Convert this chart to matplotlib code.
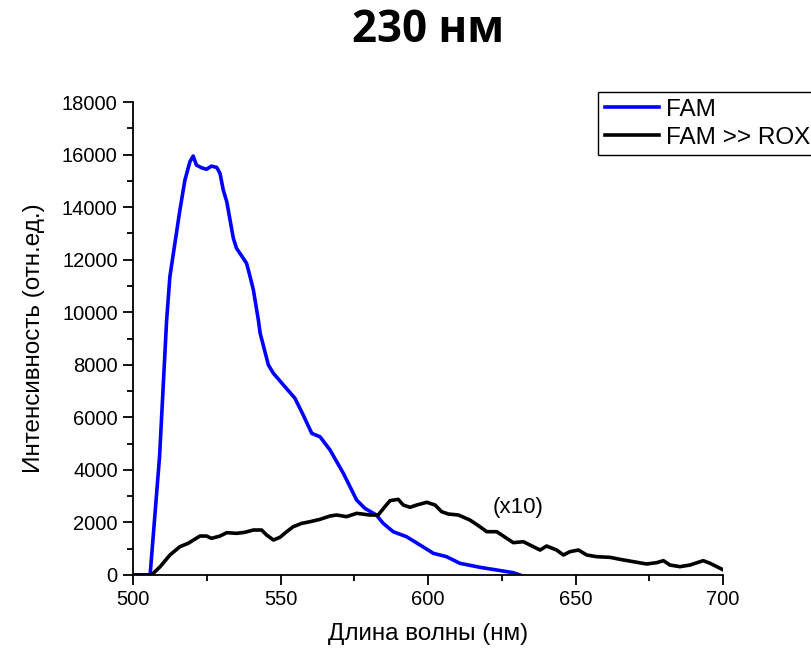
import matplotlib
matplotlib.use("Agg")
import matplotlib.pyplot as plt
from matplotlib.ticker import MultipleLocator

fam_x = [500, 505.8, 509.0, 511.4, 512.5, 513.7, 515.9, 517.6, 519.3, 520.4, 521.5, 523.2, 524.9,
         526.6, 528.4, 529.5, 530.6, 531.8, 532.9, 534.0, 535.1, 537.4, 538.5, 539.7, 540.8,
         542.5, 543.1, 545.9, 547.6, 551.5, 554.9, 557.7, 560.6, 563.4, 566.8, 571.3, 575.8,
         578.6, 582.5, 584.8, 588.2, 592.7, 597.3, 601.8, 606.3, 610.8, 617.6, 623.3, 628.9, 631.2]
fam_y = [0, 0, 4500, 9700, 11350, 12250, 13890, 15030, 15730, 15943, 15600, 15500, 15440,
         15560, 15510, 15280, 14650, 14200, 13510, 12820, 12430, 12050, 11860, 11350, 10850,
         9700, 9200, 7990, 7675, 7165, 6725, 6088, 5390, 5260, 4756, 3870, 2854,
         2537, 2283, 1967, 1648, 1458, 1142, 826, 697, 445, 293, 190, 88, 0]

rox_x = [500, 506.3, 509.2, 512.5, 515.9, 518.7, 522.7, 524.9, 526.6, 529.5, 531.8, 535.1, 537.9,
         540.8, 543.6, 545.3, 547.6, 549.8, 552.1, 554.3, 557.2, 560.0, 563.4, 566.8, 569.0,
         572.4, 575.8, 580.3, 583.1, 585.4, 587.1, 589.9, 591.6, 593.9, 596.2, 599.6, 602.4,
         604.6, 606.9, 610.3, 614.2, 617.6, 619.9, 623.3, 626.7, 628.9, 632.3, 635.7, 638.0,
         640.2, 643.6, 645.9, 648.1, 651.0, 653.8, 657.2, 661.7, 665.1, 669.6, 674.1, 677.5,
         679.8, 682.0, 685.4, 688.8, 693.3, 695.6, 699.5, 700]
rox_y = [0, 0, 316, 760, 1078, 1205, 1483, 1483, 1395, 1483, 1610, 1585, 1624,
         1712, 1712, 1522, 1332, 1433, 1648, 1838, 1965, 2028, 2119, 2245, 2283,
         2220, 2347, 2283, 2283, 2600, 2828, 2880, 2664, 2576, 2664, 2766, 2664,
         2410, 2321, 2283, 2093, 1838, 1648, 1648, 1395, 1230, 1268, 1078, 951,
         1103, 951, 761, 887, 951, 761, 697, 672, 596, 507, 419, 469,
         545, 380, 317, 380, 545, 445, 228, 200]

title = "230 нм"
xlabel = "Длина волны (нм)"
ylabel = "Интенсивность (отн.ед.)"
labels = ["FAM", "FAM >> ROX"]
note = "(x10)"

plt.rcParams['font.family'] = ['Liberation Sans', 'DejaVu Sans']

fig = plt.figure(figsize=(8.11, 6.51), dpi=100)
ax = fig.add_axes([133/811, 1-575/651, (723-133)/811, (575-102)/651])

ax.plot(fam_x, fam_y, color='#0000ff', lw=2.6, label=labels[0])
ax.plot(rox_x, rox_y, color='black', lw=2.6, label=labels[1])

ax.set_xlim(500, 700)
ax.set_ylim(0, 18000)
ax.xaxis.set_major_locator(MultipleLocator(50))
ax.xaxis.set_minor_locator(MultipleLocator(25))
ax.yaxis.set_major_locator(MultipleLocator(2000))
ax.yaxis.set_minor_locator(MultipleLocator(1000))
ax.tick_params(which='major', direction='out', length=7, width=1.3, labelsize=14.5, pad=4)
ax.tick_params(which='minor', direction='out', length=4, width=1.3)
for s in ['top', 'right']:
    ax.spines[s].set_visible(False)
for s in ['left', 'bottom']:
    ax.spines[s].set_linewidth(1.3)

ax.set_xlabel(xlabel, fontsize=17.5, labelpad=10)
ax.set_ylabel(ylabel, fontsize=17.5, labelpad=12)

ax.text(630.5, 2550, note, fontsize=16, ha='center', va='center')

fig.text(428/811, 1-30/651, title, fontsize=31.5, fontweight='bold',
         family=['Open Sans', 'DejaVu Sans'], ha='center', va='center')

leg = fig.legend(loc='upper left', bbox_to_anchor=(598/811, 1-92/651), fontsize=17.5,
                 frameon=True, fancybox=False, framealpha=1, edgecolor='black',
                 handlelength=2.25, handletextpad=0.25, borderpad=0.28, labelspacing=0.24,
                 borderaxespad=0)
leg.get_frame().set_linewidth(1.0)

fig.savefig('out.png', dpi=100)
